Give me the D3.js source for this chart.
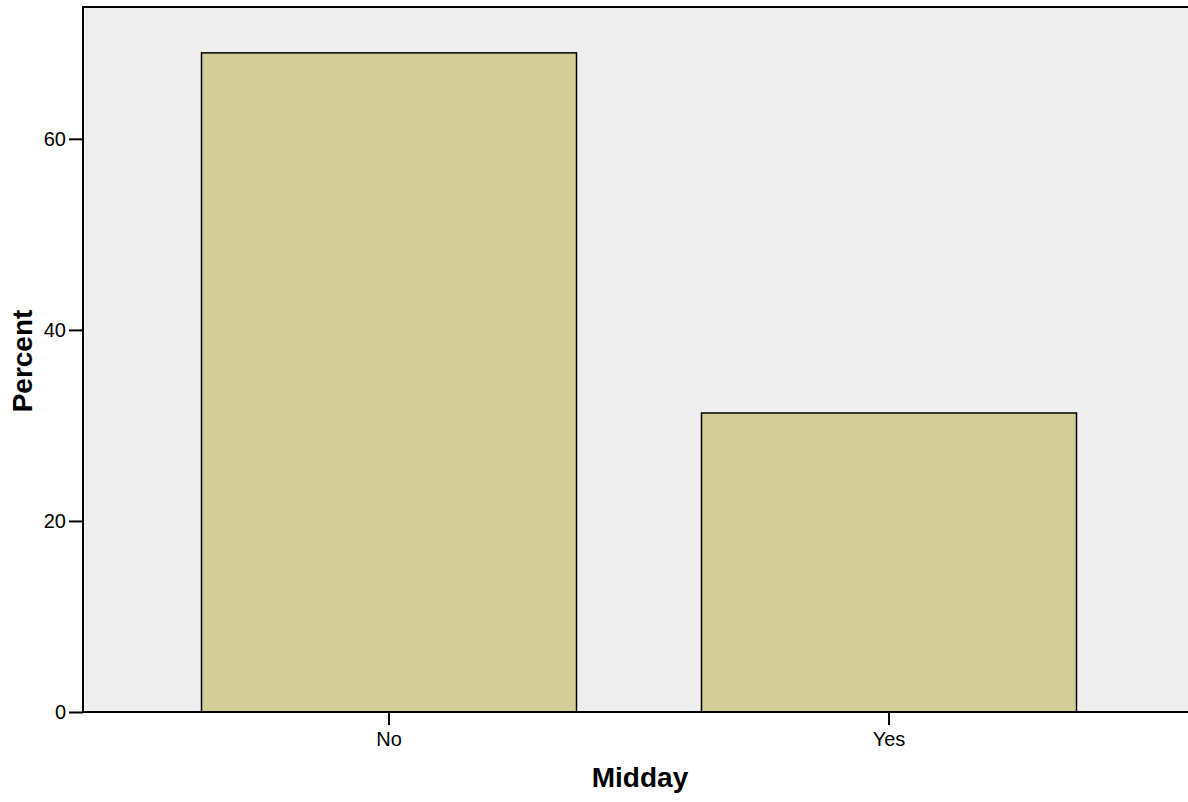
<!DOCTYPE html>
<html>
<head>
<meta charset="utf-8">
<script src="https://cdn.jsdelivr.net/npm/d3@7"></script>
<style>
  html, body { margin: 0; padding: 0; background: #ffffff; }
  svg { display: block; font-family: "Liberation Sans", Arial, sans-serif; }
</style>
</head>
<body>
<svg id="chart" width="1188" height="802"></svg>
<script>
const categories = ["No", "Yes"];
const percents = [69.0, 31.3];
const yTicks = [0, 20, 40, 60];
const xTitle = "Midday";
const yTitle = "Percent";

const svg = d3.select("#chart");
const plot = { left: 83, right: 1188, top: 7, bottom: 712 };

const x = d3.scaleBand()
  .domain(categories)
  .range([139, 1139])
  .paddingInner(0.25)
  .paddingOuter(0.125);

const y = d3.scaleLinear()
  .domain([0, 73.8])
  .range([plot.bottom, plot.top]);

// plot background
svg.append("rect")
  .attr("x", plot.left).attr("y", plot.top)
  .attr("width", plot.right - plot.left).attr("height", plot.bottom - plot.top)
  .attr("fill", "#efefef");

// bars
svg.append("g").selectAll("rect")
  .data(categories.map((c, i) => ({ c, v: percents[i] })))
  .join("rect")
  .attr("x", d => x(d.c))
  .attr("y", d => y(d.v))
  .attr("width", x.bandwidth())
  .attr("height", d => y(0) - y(d.v))
  .attr("fill", "#d3ce98")
  .attr("stroke", "#000")
  .attr("stroke-width", 1.5);

// top border
svg.append("line")
  .attr("x1", plot.left).attr("x2", plot.right)
  .attr("y1", plot.top).attr("y2", plot.top)
  .attr("stroke", "#000").attr("stroke-width", 2);

// y axis
const yAxis = svg.append("g")
  .attr("transform", `translate(${plot.left},0)`)
  .call(d3.axisLeft(y).tickValues(yTicks).tickSizeInner(14).tickSizeOuter(0).tickPadding(3).tickFormat(d3.format("d")));
yAxis.select(".domain").remove();
yAxis.selectAll(".tick line").attr("stroke", "#000").attr("stroke-width", 2);
yAxis.selectAll(".tick text").attr("font-size", 20).attr("fill", "#000")
  .attr("font-family", "'Liberation Sans', Arial, sans-serif");

// x axis
const xAxis = svg.append("g")
  .attr("transform", `translate(0,${plot.bottom})`)
  .call(d3.axisBottom(x).tickSizeInner(13).tickSizeOuter(0).tickPadding(7));
xAxis.select(".domain").remove();
xAxis.append("line")
  .attr("x1", plot.left).attr("x2", plot.right)
  .attr("y1", 0).attr("y2", 0)
  .attr("stroke", "#000").attr("stroke-width", 2);
xAxis.selectAll(".tick line").attr("stroke", "#000").attr("stroke-width", 2);
xAxis.selectAll(".tick text").attr("font-size", 20).attr("fill", "#000")
  .attr("font-family", "'Liberation Sans', Arial, sans-serif");

// left axis line
svg.append("line")
  .attr("x1", plot.left).attr("x2", plot.left)
  .attr("y1", plot.top - 1).attr("y2", plot.bottom + 1)
  .attr("stroke", "#000").attr("stroke-width", 2);

// axis titles
svg.append("text")
  .attr("x", 640).attr("y", 787)
  .attr("text-anchor", "middle")
  .attr("font-size", 28).attr("font-weight", "bold")
  .text(xTitle);

svg.append("text")
  .attr("transform", "translate(32,361) rotate(-90)")
  .attr("text-anchor", "middle")
  .attr("font-size", 28).attr("font-weight", "bold")
  .text(yTitle);
</script>
</body>
</html>
